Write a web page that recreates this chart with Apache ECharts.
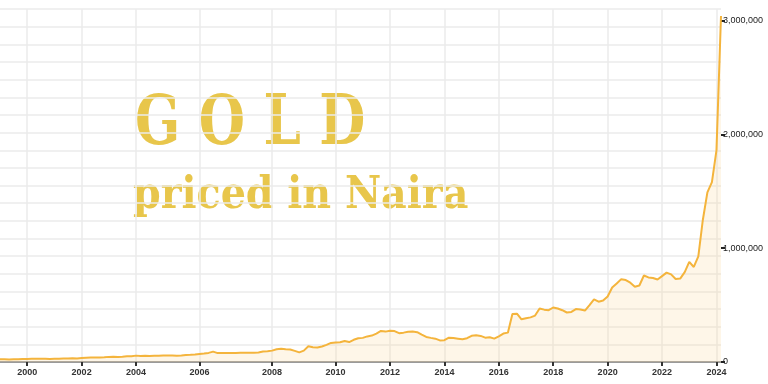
<!DOCTYPE html>
<html>
<head>
<meta charset="utf-8">
<script src="https://cdn.jsdelivr.net/npm/echarts@6/dist/echarts.min.js"></script>
<style>html,body{margin:0;padding:0;background:#fff}#c{width:768px;height:384px}</style>
</head>
<body>
<div id="c"></div>
<script>
// Irregularly sampled series: [start year-month, end year-month, number of steps]
const sampleSegments = [
  ['1999-01', '2000-01', 6],
  ['2000-01', '2004-01', 24],
  ['2004-01', '2006-01', 14],
  ['2006-01', '2008-01', 16],
  ['2008-01', '2010-01', 14],
  ['2010-01', '2024-01', 84],
  ['2024-01', '2024-02', 1]
];

// Gold price in Naira (thousands of NGN per oz)
const goldNairaK = [
  24, 24, 23, 24, 25, 27,
  27, 28, 29, 28, 28, 27, 29, 29, 30, 30, 32, 31,
  35, 37, 39, 40, 40, 41, 45, 46, 44, 46, 50, 51,
  56, 53, 54, 53, 54, 55, 57, 57, 57, 56, 58, 61, 63, 66,
  71, 75, 80, 91, 78, 78, 79, 78, 80, 81, 82, 82, 82, 84, 92, 94,
  100, 112, 117, 112, 110, 98, 85, 100, 138, 130, 128, 136, 150, 168,
  172, 174, 185, 175, 195, 209,
  212, 225, 232, 250, 273, 267,
  275, 272, 253, 258, 265, 267,
  262, 240, 220, 212, 205, 190,
  192, 214, 210, 205, 200, 209,
  230, 235, 229, 214, 218, 205,
  225, 250, 258, 421, 425, 375,
  385, 392, 408, 470, 460, 455,
  479, 470, 455, 435, 440, 465,
  462, 452, 500, 550, 530, 540,
  576, 655, 690, 728, 720, 697,
  662, 672, 760, 743, 738, 725,
  755, 785, 770, 730, 733, 790,
  880, 835, 929, 1250, 1490, 1580,
  1860,
  3040
];

const yTickValues = [0, 1000000, 2000000, 3000000];
const titleLine1 = 'G O L D';
const titleLine2 = 'priced in Naira';

function pad(n) { return (n < 10 ? '0' : '') + n; }
function toMonths(s) { return (+s.slice(0, 4)) * 12 + (+s.slice(5, 7)) - 1; }
const categories = [];
sampleSegments.forEach(function (seg, si) {
  const a = toMonths(seg[0]), b = toMonths(seg[1]);
  for (let k = (si === 0 ? 0 : 1); k <= seg[2]; k++) {
    const m = a + (b - a) * k / seg[2];
    const mi = Math.floor(m + 1e-9);
    const day = 1 + Math.floor((m - mi) * 30 + 1e-9);
    categories.push(Math.floor(mi / 12) + '-' + pad(mi % 12 + 1) + '-' + pad(day));
  }
});
const values = goldNairaK.map(function (v) { return v * 1000; });

function isLabelYear(idx, val) {
  return /-01-01$/.test(val) && (+val.slice(0, 4)) % 2 === 0 && +val.slice(0, 4) >= 2000;
}

const chart = echarts.init(document.getElementById('c'), null, { renderer: 'canvas' });
chart.setOption({
  animation: false,
  backgroundColor: '#ffffff',
  grid: { left: -2.3, right: 47, top: 9.2, bottom: 22, containLabel: false },
  xAxis: {
    type: 'category',
    data: categories,
    boundaryGap: false,
    axisLine: { show: true, lineStyle: { color: '#9a9a9a', width: 2 } },
    axisTick: { show: true, interval: isLabelYear, length: 4, lineStyle: { color: '#333', width: 2 } },
    axisLabel: {
      interval: isLabelYear,
      formatter: function (v) { return v.slice(0, 4); },
      color: '#333', fontSize: 9, fontFamily: 'Liberation Sans', fontWeight: 'bold', margin: 6
    },
    splitLine: { show: true, interval: isLabelYear, lineStyle: { color: '#ebebeb', width: 1.5 } }
  },
  yAxis: [
    {
      type: 'value', position: 'right', min: 0, max: 3100000, interval: 1000000,
      axisLine: { show: false },
      axisTick: { show: true, length: 4, customValues: yTickValues, lineStyle: { color: '#222', width: 2 } },
      axisLabel: {
        customValues: yTickValues,
        formatter: function (v) { return v.toLocaleString('en-US'); },
        color: '#222', fontSize: 9, fontFamily: 'Liberation Sans', margin: 2
      },
      splitLine: { show: false }
    },
    {
      type: 'value', position: 'right', min: 0, max: 3100000, interval: 155000,
      axisLine: { show: false }, axisTick: { show: false }, axisLabel: { show: false },
      splitLine: { show: true, lineStyle: { color: '#ebebeb', width: 1.5 } }
    }
  ],
  graphic: [
    {
      type: 'text', x: 135, y: 126, scaleX: 0.855,
      style: { text: titleLine1, font: 'bold 69px "DejaVu Serif Condensed", "DejaVu Serif"', fill: '#E8C64B', align: 'left', verticalAlign: 'middle' }
    },
    {
      type: 'text', x: 133, y: 197,
      style: { text: titleLine2, font: 'bold 44px "DejaVu Serif Condensed", "DejaVu Serif"', fill: '#E8C64B', align: 'left', verticalAlign: 'middle' }
    }
  ],
  series: [{
    type: 'line',
    data: values,
    yAxisIndex: 0,
    symbol: 'none',
    smooth: false,
    lineStyle: { color: '#F4B43C', width: 2 },
    areaStyle: { color: 'rgba(250,220,160,0.35)' }
  }]
});
</script>
</body>
</html>
